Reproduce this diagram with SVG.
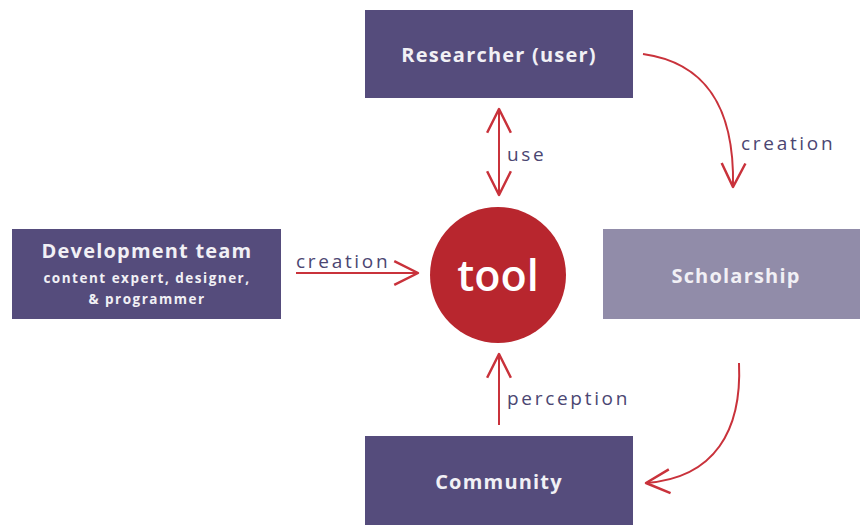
<svg xmlns="http://www.w3.org/2000/svg" width="860" height="525" viewBox="0 0 860 525">
  <style>
    .box { fill: #554c7c; }
    .box-light { fill: #918ca9; }
    .title { font-family: "Open Sans", "Liberation Sans", sans-serif; font-weight: bold; font-size: 20px; fill: #f1f0f5; text-anchor: middle; letter-spacing: 1.2px; }
    .sub { font-family: "Open Sans", "Liberation Sans", sans-serif; font-weight: bold; font-size: 13.5px; fill: #f1f0f5; text-anchor: middle; letter-spacing: 1.5px; }
    .label { font-family: "Open Sans", "Liberation Sans", sans-serif; font-size: 19px; fill: #4b4672; letter-spacing: 2.7px; }
    .link { fill: none; stroke: #c9323b; stroke-width: 2; }
  </style>
  <defs>
    <marker id="head" markerUnits="userSpaceOnUse" markerWidth="30" markerHeight="30" viewBox="-22 -12 24 24" refX="0" refY="0" orient="auto-start-reverse">
      <path d="M-19,-9.5 L0,0 L-19,9.5" fill="none" stroke="#c9323b" stroke-width="2" stroke-linejoin="round"/>
    </marker>
  </defs>

  <rect width="860" height="525" fill="#ffffff"/>

  <g id="researcher">
    <rect class="box" x="365" y="10" width="268" height="88"/>
    <text class="title" x="499" y="62">Researcher (user)</text>
  </g>

  <g id="development-team">
    <rect class="box" x="12" y="229" width="269" height="90"/>
    <text class="title" x="147" y="258">Development team</text>
    <text class="sub" x="147" y="283">content expert, designer,</text>
    <text class="sub" x="147" y="304">&amp; programmer</text>
  </g>

  <g id="scholarship">
    <rect class="box-light" x="603" y="229" width="257" height="90"/>
    <text class="title" x="736" y="283">Scholarship</text>
  </g>

  <g id="community">
    <rect class="box" x="365" y="436" width="268" height="89"/>
    <text class="title" x="499" y="489">Community</text>
  </g>

  <g id="tool">
    <circle cx="498" cy="275" r="68" fill="#b8262e"/>
    <text x="498" y="291" font-family="'Open Sans', 'Liberation Sans', sans-serif" font-size="43" font-weight="600" fill="#ffffff" text-anchor="middle">tool</text>
  </g>

  <g id="connectors">
    <!-- researcher <-> tool -->
    <line class="link" x1="499" y1="109" x2="499" y2="195" marker-start="url(#head)" marker-end="url(#head)"/>
    <text class="label" x="507" y="161">use</text>

    <!-- development team -> tool -->
    <line class="link" x1="296" y1="273" x2="418" y2="273" marker-end="url(#head)"/>
    <text class="label" x="296" y="268">creation</text>

    <!-- community -> tool -->
    <line class="link" x1="499" y1="425" x2="499" y2="354" marker-end="url(#head)"/>
    <text class="label" x="507" y="405">perception</text>

    <!-- researcher -> scholarship -->
    <path class="link" d="M643,54 C700,62 735,100 733,187" marker-end="url(#head)"/>
    <text class="label" x="741" y="150">creation</text>

    <!-- scholarship -> community -->
    <path class="link" d="M739,363 C742,430 715,478 646,483" marker-end="url(#head)"/>
  </g>
</svg>
